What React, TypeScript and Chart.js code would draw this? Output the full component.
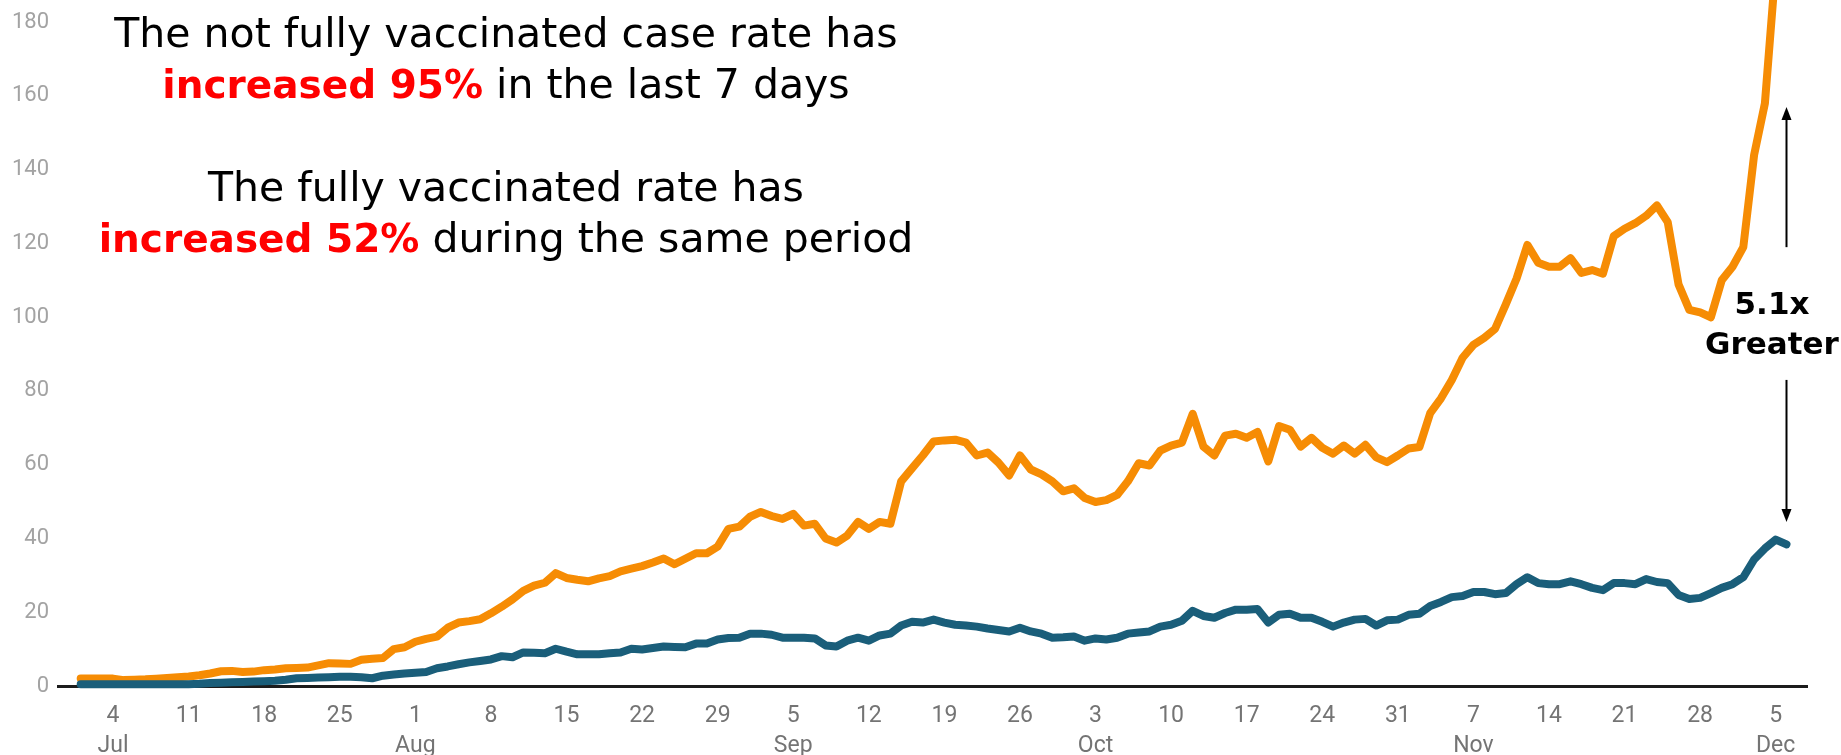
import React, { useEffect, useRef } from 'react';
import { Chart, registerables } from 'chart.js';

Chart.register(...registerables);

// Daily case rates, one value per day starting 2021-07-01 (index 0) through 2021-12-06
const START_DATE = '2021-07-01';

const notFullyVaccinated = [
  // Jul 1-31
  2.0, 2.0, 2.0, 2.0, 1.6, 1.7, 1.8, 2.0, 2.2, 2.4,
  2.6, 2.9, 3.4, 4.0, 4.1, 3.8, 3.9, 4.3, 4.5, 4.8,
  4.9, 5.0, 5.6, 6.2, 6.1, 6.0, 7.1, 7.4, 7.6, 10.0, 10.5,
  // Aug 1-31
  12.0, 12.8, 13.4, 15.8, 17.2, 17.6, 18.1, 19.7, 21.5, 23.5,
  25.8, 27.2, 28.0, 30.6, 29.3, 28.8, 28.4, 29.2, 29.8, 31.1,
  31.8, 32.5, 33.5, 34.6, 33.0, 34.5, 36.0, 36.0, 37.8, 42.6, 43.2,
  // Sep 1-30
  45.9, 47.2, 46.1, 45.3, 46.7, 43.5, 44.0, 40.0, 38.9, 40.8,
  44.5, 42.6, 44.5, 44.0, 55.5, 59.0, 62.5, 66.3, 66.6, 66.8,
  66.0, 62.5, 63.3, 60.6, 57.1, 62.5, 58.7, 57.4, 55.5, 52.8,
  // Oct 1-31
  53.6, 51.0, 49.9, 50.4, 51.8, 55.5, 60.4, 59.8, 63.8, 65.2,
  66.0, 73.8, 64.9, 62.5, 67.9, 68.4, 67.3, 68.9, 60.9, 70.5,
  69.5, 64.9, 67.3, 64.6, 63.0, 65.2, 63.0, 65.4, 62.0, 60.7, 62.5,
  // Nov 1-30
  64.4, 64.8, 74.0, 78.0, 83.0, 89.0, 92.5, 94.4, 96.8, 103.5,
  110.5, 119.6, 114.8, 113.7, 113.7, 116.0, 112.0, 112.8, 111.8, 122.0,
  124.0, 125.5, 127.5, 130.3, 125.8, 108.9, 102.0, 101.3, 100.0, 110.0,
  // Dec 1-6
  113.7, 119.0, 144.0, 158.0, 195.0, 200.0,
];

const fullyVaccinated = [
  // Jul 1-31
  0.5, 0.5, 0.5, 0.5, 0.5, 0.5, 0.5, 0.5, 0.5, 0.5,
  0.5, 0.6, 0.8, 0.9, 1.0, 1.1, 1.2, 1.3, 1.4, 1.7,
  2.1, 2.2, 2.3, 2.4, 2.5, 2.5, 2.4, 2.1, 2.8, 3.1, 3.4,
  // Aug 1-31
  3.6, 3.8, 4.8, 5.3, 5.9, 6.4, 6.8, 7.2, 8.1, 7.8,
  9.1, 9.0, 8.9, 10.1, 9.3, 8.6, 8.6, 8.6, 8.9, 9.1,
  10.1, 9.9, 10.3, 10.7, 10.6, 10.5, 11.5, 11.5, 12.6, 13.0, 13.1,
  // Sep 1-30
  14.2, 14.2, 13.9, 13.1, 13.1, 13.1, 12.9, 11.0, 10.7, 12.3,
  13.1, 12.3, 13.7, 14.2, 16.4, 17.4, 17.2, 18.0, 17.2, 16.6,
  16.4, 16.1, 15.6, 15.2, 14.8, 15.8, 14.8, 14.2, 13.1, 13.2,
  // Oct 1-31
  13.4, 12.3, 12.9, 12.6, 13.1, 14.2, 14.5, 14.8, 16.1, 16.6,
  17.7, 20.4, 19.0, 18.5, 19.8, 20.7, 20.7, 20.9, 17.2, 19.3,
  19.6, 18.5, 18.5, 17.4, 16.1, 17.2, 18.0, 18.2, 16.4, 17.8, 18.0,
  // Nov 1-30
  19.3, 19.6, 21.7, 22.8, 24.1, 24.4, 25.5, 25.5, 24.9, 25.2,
  27.6, 29.5, 27.9, 27.6, 27.6, 28.4, 27.6, 26.6, 26.0, 27.9,
  27.9, 27.6, 29.0, 28.2, 27.9, 24.7, 23.6, 23.9, 25.2, 26.6,
  // Dec 1-6
  27.6, 29.5, 34.3, 37.3, 39.7, 38.4,
];

// Weekly x-axis ticks (first tick = Jul 4, index 3)
const FIRST_TICK_INDEX = 3;
const TICK_STEP_DAYS = 7;
const tickDayLabels = ['4', '11', '18', '25', '1', '8', '15', '22', '29', '5', '12', '19', '26', '3', '10', '17', '24', '31', '7', '14', '21', '28', '5'];
const tickMonthLabels = ['Jul', '', '', '', 'Aug', '', '', '', '', 'Sep', '', '', '', 'Oct', '', '', '', '', 'Nov', '', '', '', 'Dec'];

const yTickValues = [0, 20, 40, 60, 80, 100, 120, 140, 160, 180];

// Ratio annotation (arrows at the last day)
const ARROW_INDEX = 158;
const upArrow = [119, 157];
const downArrow = [83, 44.5];

const ORANGE = '#F68C04';
const TEAL = '#1A5E7A';

const arrowPlugin = {
  id: 'ratioArrows',
  afterDatasetsDraw(chart: any) {
    const { ctx, scales } = chart;
    const xs = scales.x;
    const ys = scales.y;
    const px = Math.round(xs.getPixelForValue(ARROW_INDEX)) + 0.5;
    const draw = (from: number, to: number) => {
      const y0 = ys.getPixelForValue(from);
      const y1 = ys.getPixelForValue(to);
      const dir = Math.sign(y1 - y0);
      ctx.save();
      ctx.strokeStyle = '#000';
      ctx.fillStyle = '#000';
      ctx.lineWidth = 2;
      ctx.beginPath();
      ctx.moveTo(px, y0);
      ctx.lineTo(px, y1 - dir * 10);
      ctx.stroke();
      ctx.beginPath();
      ctx.moveTo(px, y1);
      ctx.lineTo(px - 5, y1 - dir * 13);
      ctx.lineTo(px + 5, y1 - dir * 13);
      ctx.closePath();
      ctx.fill();
      ctx.restore();
    };
    draw(upArrow[0], upArrow[1]);
    draw(downArrow[0], downArrow[1]);
  },
};

export default function App() {
  const canvasRef = useRef<HTMLCanvasElement | null>(null);

  useEffect(() => {
    const canvas = canvasRef.current;
    if (!canvas) return;
    const toPoints = (arr: number[]) => arr.map((v, i) => ({ x: i, y: v }));
    const chart = new Chart(canvas, {
      type: 'line',
      data: {
        datasets: [
          {
            label: 'Fully vaccinated (from ' + START_DATE + ')',
            data: toPoints(fullyVaccinated),
            borderColor: TEAL,
            backgroundColor: TEAL,
            borderWidth: 8,
            pointRadius: 0,
            tension: 0,
            clip: false,
            borderJoinStyle: 'round',
            borderCapStyle: 'round',
          } as any,
          {
            label: 'Not fully vaccinated (from ' + START_DATE + ')',
            data: toPoints(notFullyVaccinated),
            borderColor: ORANGE,
            backgroundColor: ORANGE,
            borderWidth: 8,
            pointRadius: 0,
            tension: 0,
            clip: false,
            borderJoinStyle: 'round',
            borderCapStyle: 'round',
          } as any,
        ],
      },
      options: {
        responsive: false,
        animation: false,
        events: [],
        layout: { padding: { top: 15, right: 34, bottom: 0, left: 0 } },
        plugins: { legend: { display: false }, tooltip: { enabled: false } },
        scales: {
          x: {
            type: 'linear',
            min: -2.1,
            max: 159.9,
            grid: { display: false, drawTicks: false },
            border: { display: true, color: '#1c1c1c', width: 3 },
            afterBuildTicks: (s: any) => {
              s.ticks = tickDayLabels.map((_, k) => ({ value: FIRST_TICK_INDEX + k * TICK_STEP_DAYS }));
            },
            ticks: {
              autoSkip: false,
              maxRotation: 0,
              minRotation: 0,
              color: '#747474',
              font: { family: 'Roboto', size: 23, lineHeight: 1.3 },
              padding: 15,
              callback: (value: any) => {
                const k = Math.round((Number(value) - FIRST_TICK_INDEX) / TICK_STEP_DAYS);
                return [tickDayLabels[k], tickMonthLabels[k]];
              },
            },
            afterFit: (s: any) => {
              s.height = 69;
            },
          } as any,
          y: {
            min: 0,
            max: 180,
            grid: { display: false, drawTicks: false },
            border: { display: false },
            afterBuildTicks: (s: any) => {
              s.ticks = yTickValues.map((v) => ({ value: v }));
            },
            ticks: {
              color: '#a3a3a3',
              font: { family: 'Roboto', size: 22 },
              padding: 9,
            },
            afterFit: (s: any) => {
              s.width = 58;
            },
          } as any,
        },
      },
      plugins: [arrowPlugin],
    });
    return () => chart.destroy();
  }, []);

  const regular: React.CSSProperties = {
    position: 'absolute',
    left: 0,
    width: 1012,
    textAlign: 'center',
    fontFamily: '"DejaVu Sans", sans-serif',
    fontSize: 41,
    lineHeight: '51px',
    color: '#000',
    whiteSpace: 'nowrap',
  };
  const red: React.CSSProperties = { color: '#FF0000', fontWeight: 'bold', fontSize: 39 };

  return (
    <div style={{ position: 'absolute', left: 0, top: 0, width: 1841, height: 755, background: '#fff', overflow: 'hidden' }}>
      <canvas ref={canvasRef} width={1841} height={755} style={{ display: 'block' }} />
      <div style={{ ...regular, top: 8 }}>
        <div>The not fully vaccinated case rate has</div>
        <div>
          <span style={red}>increased 95%</span> in the last 7 days
        </div>
      </div>
      <div style={{ ...regular, top: 162 }}>
        <div>The fully vaccinated rate has</div>
        <div>
          <span style={red}>increased 52%</span> during the same period
        </div>
      </div>
      <div
        style={{
          position: 'absolute',
          left: 1697,
          top: 283,
          width: 150,
          textAlign: 'center',
          fontFamily: '"DejaVu Sans", sans-serif',
          fontWeight: 'bold',
          fontSize: 31,
          lineHeight: '40px',
          color: '#000',
        }}
      >
        <div>5.1x</div>
        <div>Greater</div>
      </div>
    </div>
  );
}
